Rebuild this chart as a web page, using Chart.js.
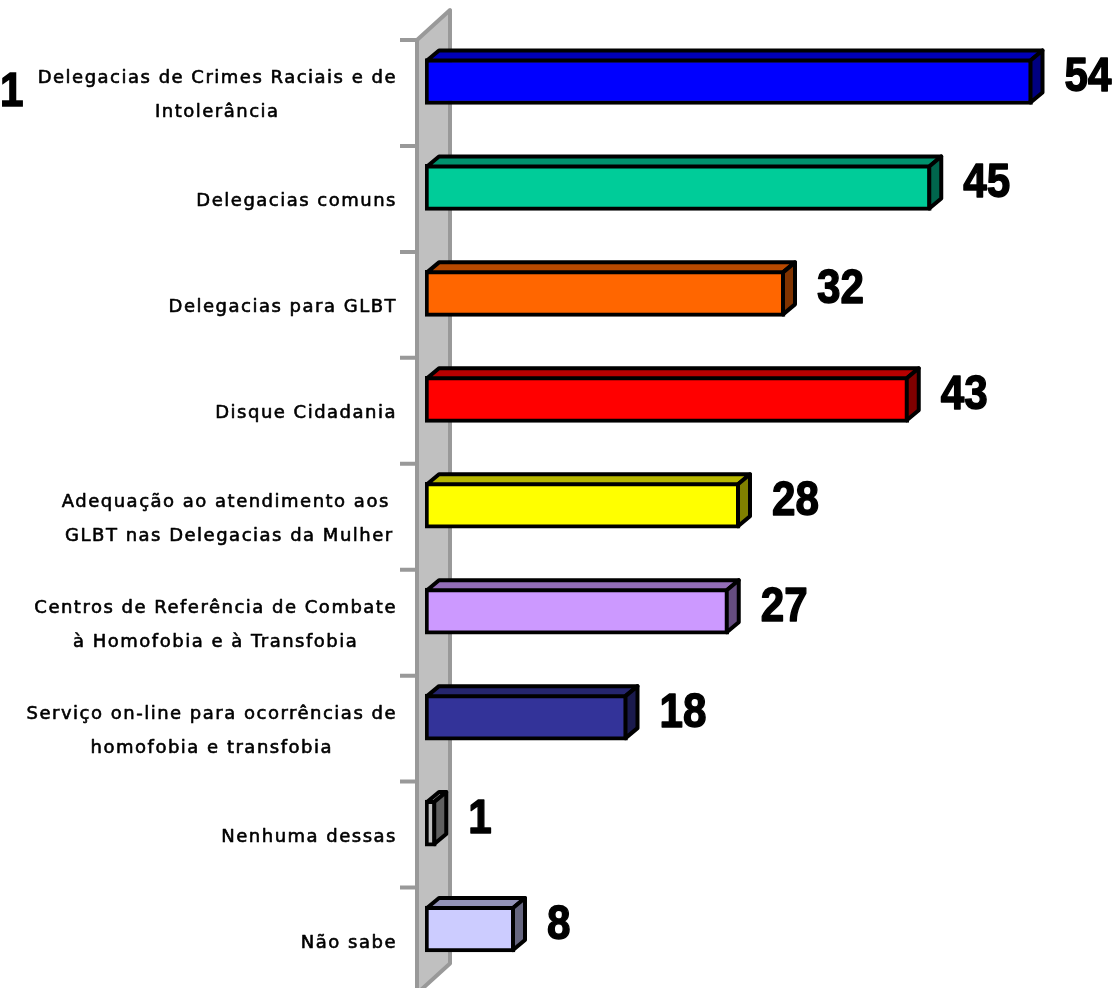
<!DOCTYPE html>
<html>
<head>
<meta charset="utf-8">
<script src="https://cdn.jsdelivr.net/npm/chart.js@4.4.0/dist/chart.umd.min.js"></script>
<style>
  html, body { margin: 0; padding: 0; background: #fff; }
  canvas { display: block; }
</style>
</head>
<body>
<canvas id="chart" width="1120" height="988"></canvas>
<script>
// ---- data ----
const categories = [
  ['Delegacias de Crimes Raciais e de', 'Intolerância'],
  ['Delegacias comuns'],
  ['Delegacias para GLBT'],
  ['Disque Cidadania'],
  ['Adequação ao atendimento aos ', 'GLBT nas Delegacias da Mulher'],
  ['Centros de Referência de Combate', 'à Homofobia e à Transfobia'],
  ['Serviço on-line para ocorrências de', 'homofobia e transfobia'],
  ['Nenhuma dessas'],
  ['Não sabe']
];
const values = [54, 45, 32, 43, 28, 27, 18, 1, 8];
const axisMax = 60;
const cornerMark = '1';

const barColors = ['#0000FF', '#00CC99', '#FF6600', '#FF0000', '#FFFF00', '#CC99FF', '#333399', '#C0C0C0', '#CCCCFF'];

function shade(hex, f) {
  const n = parseInt(hex.slice(1), 16);
  const r = Math.round(((n >> 16) & 255) * f);
  const g = Math.round(((n >> 8) & 255) * f);
  const b = Math.round((n & 255) * f);
  return `rgb(${r},${g},${b})`;
}

const numFont = 'bold 49px "Liberation Sans", Arial, sans-serif';
const depth = { dx: 12, dy: 10 };

// narrow, heavy number text (squeezed horizontally)
function drawNumber(ctx, text, x, y) {
  ctx.save();
  ctx.font = numFont;
  ctx.textAlign = 'left';
  ctx.textBaseline = 'middle';
  ctx.fillStyle = '#000';
  ctx.strokeStyle = '#000';
  ctx.lineWidth = 1.5;
  ctx.translate(x, y);
  ctx.scale(0.86, 1);
  ctx.fillText(text, 0, 0);
  ctx.strokeText(text, 0, 0);
  ctx.restore();
}

// ---- 3D wall, labels and bar faces ----
const threeD = {
  id: 'threeD',
  beforeDatasetsDraw(chart) {
    const { ctx, chartArea: a, scales: { y } } = chart;
    const step = (a.bottom - a.top) / categories.length;
    const shift = 11.5, fx = a.left - 8, wdx = 33, wdy = 30;
    const top = a.top + shift, bot = a.bottom + shift;
    ctx.save();
    // wall
    ctx.beginPath();
    ctx.moveTo(fx, top);
    ctx.lineTo(fx + wdx, top - wdy);
    ctx.lineTo(fx + wdx, bot - wdy);
    ctx.lineTo(fx, bot);
    ctx.closePath();
    ctx.fillStyle = '#C0C0C0';
    ctx.fill();
    ctx.strokeStyle = '#999999';
    ctx.lineWidth = 4;
    ctx.lineJoin = 'round';
    ctx.stroke();
    // ticks
    ctx.beginPath();
    for (let i = 0; i <= categories.length; i++) {
      const ty = top + i * step;
      ctx.moveTo(fx - 17, ty);
      ctx.lineTo(fx, ty);
    }
    ctx.stroke();
    // category labels
    ctx.font = '18px "DejaVu Sans", sans-serif';
    ctx.letterSpacing = '1.5px';
    ctx.fillStyle = '#000';
    ctx.strokeStyle = '#000';
    ctx.lineWidth = 0.6;
    ctx.textAlign = 'center';
    ctx.textBaseline = 'alphabetic';
    categories.forEach((lines, i) => {
      const cy = y.getPixelForValue(i) + shift;
      const w = Math.max(...lines.map(l => ctx.measureText(l).width));
      const cx = fx - 20 - w / 2;
      lines.forEach((l, k) => {
        const ly = cy + (k - (lines.length - 1) / 2) * 34 + 7;
        ctx.fillText(l, cx, ly);
        ctx.strokeText(l, cx, ly);
      });
    });
    ctx.letterSpacing = '0px';
    ctx.restore();
    drawNumber(ctx, cornerMark, 0, 92);
  },
  afterDatasetsDraw(chart) {
    const { ctx } = chart;
    const meta = chart.getDatasetMeta(0);
    ctx.save();
    ctx.lineWidth = 4;
    ctx.lineJoin = 'round';
    ctx.strokeStyle = '#000';
    meta.data.forEach((bar, i) => {
      const { x, y, base, height } = bar.getProps(['x', 'y', 'base', 'height'], true);
      const L = base + 2, R = x - 2, T = y - height / 2 + 2, B = y + height / 2 - 2;
      const c = barColors[i];
      // top face
      ctx.beginPath();
      ctx.moveTo(L, T);
      ctx.lineTo(L + depth.dx, T - depth.dy);
      ctx.lineTo(R + depth.dx, T - depth.dy);
      ctx.lineTo(R, T);
      ctx.closePath();
      ctx.fillStyle = shade(c, 0.72);
      ctx.fill();
      ctx.stroke();
      // side face
      ctx.beginPath();
      ctx.moveTo(R, T);
      ctx.lineTo(R + depth.dx, T - depth.dy);
      ctx.lineTo(R + depth.dx, B - depth.dy);
      ctx.lineTo(R, B);
      ctx.closePath();
      ctx.fillStyle = shade(c, 0.5);
      ctx.fill();
      ctx.stroke();
      // value
      drawNumber(ctx, String(values[i]), R + depth.dx + 22, y - 4);
    });
    ctx.restore();
  }
};

new Chart(document.getElementById('chart'), {
  type: 'bar',
  data: {
    labels: categories,
    datasets: [{
      data: values,
      backgroundColor: barColors,
      borderColor: '#000',
      borderWidth: 4,
      borderSkipped: false,
      barThickness: 46
    }]
  },
  options: {
    indexAxis: 'y',
    responsive: false,
    devicePixelRatio: 1,
    animation: false,
    layout: { padding: { left: 425, right: 20, top: 28.5, bottom: 6 } },
    scales: {
      x: { display: false, min: 0, max: axisMax },
      y: { display: false }
    },
    plugins: { legend: { display: false }, tooltip: { enabled: false } },
    events: []
  },
  plugins: [threeD]
});
</script>
</body>
</html>
